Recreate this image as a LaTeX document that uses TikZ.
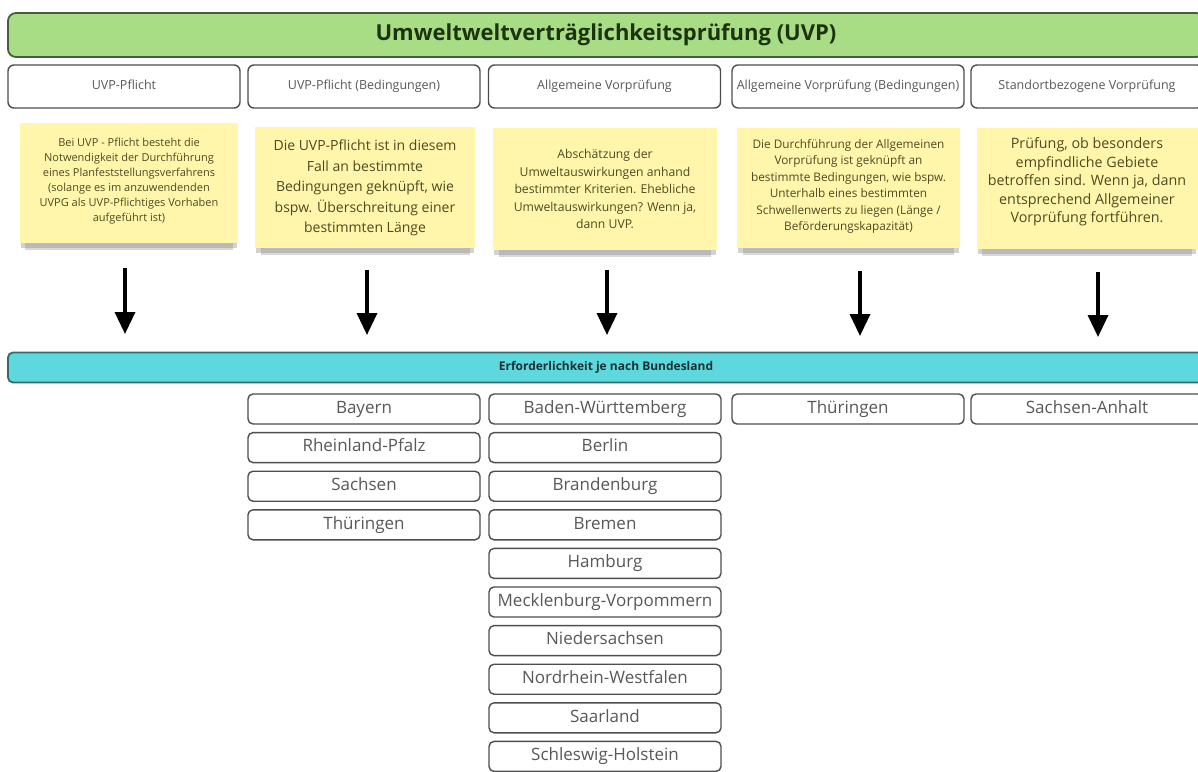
\documentclass[tikz,border=0pt]{standalone}
\usepackage{fontspec}
\setmainfont{Open Sans}
\usepackage{tikz}
\usetikzlibrary{arrows.meta, shadows}
\definecolor{uvpgreen}{RGB}{169, 221, 133}
\definecolor{uvpgreenline}{RGB}{72, 92, 62}
\definecolor{uvptitle}{RGB}{28, 52, 14}
\definecolor{notefill}{RGB}{255, 246, 172}
\definecolor{notetext}{RGB}{78, 74, 32}
\definecolor{barfill}{RGB}{94, 216, 220}
\definecolor{barline}{RGB}{46, 108, 112}
\definecolor{bartext}{RGB}{20, 50, 52}
\definecolor{boxline}{RGB}{78, 78, 78}
\definecolor{boxtext}{RGB}{88, 88, 88}

\tikzset{
  titlebar/.style={draw=uvpgreenline, line width=1.8pt, fill=uvpgreen, rounded corners=8pt,
    minimum width=1196pt, minimum height=44pt, inner sep=0pt, text=uvptitle,
    font=\fontsize{22}{26}\selectfont\bfseries},
  hdrbox/.style={draw=boxline, line width=1.4pt, fill=white, rounded corners=6pt,
    minimum width=\bw pt, minimum height=\hh pt, inner sep=0pt, text=boxtext,
    text height=9pt, text depth=3pt, font=\fontsize{12.5}{14}\selectfont},
  sticky/.style={fill=notefill, inner sep=0pt,
    drop shadow={shadow xshift=0pt, shadow yshift=-11pt, shadow scale=0.95, opacity=0.3},
    drop shadow={shadow xshift=0pt, shadow yshift=-6pt, shadow scale=0.99, opacity=0.35}},
  notelabel/.style={align=center, text=notetext, inner sep=0pt},
  statebar/.style={draw=barline, line width=1.8pt, fill=barfill, rounded corners=5pt,
    minimum width=1196pt, minimum height=30pt, inner sep=0pt, text=bartext,
    font=\fontsize{12}{14}\selectfont\bfseries},
  statebox/.style={draw=boxline, line width=1.4pt, fill=white, rounded corners=5pt,
    minimum width=\bw pt, minimum height=\sh pt, inner sep=0pt, text=boxtext,
    text height=12.5pt, text depth=4pt, font=\fontsize{17}{19}\selectfont},
  downarrow/.style={line width=3.5pt, -{Triangle[width=20pt, length=22pt]}}
}

\begin{document}
\begin{tikzpicture}[x=1pt, y=-1pt]
  \def\bw{232}
  \def\hh{43}
  \def\sh{30}

  \clip (0,0) rectangle (1198,771);
  \fill[white] (0,0) rectangle (1198,771);

  % Titel
  \node[titlebar] (title) at (606,35) {Umweltweltverträglichkeitsprüfung (UVP)};

  % Kopfzeile: 5 Verfahrensarten
  \node[hdrbox] (hdrPfl)  at (124,86.5)  {UVP-Pflicht};
  \node[hdrbox] (hdrBed)  at (364,86.5)  {UVP-Pflicht (Bedingungen)};
  \node[hdrbox] (hdrAVP)  at (604.5,86.5) {Allgemeine Vorprüfung};
  \node[hdrbox] (hdrAVPb) at (848,86.5)  {Allgemeine Vorprüfung (Bedingungen)};
  \node[hdrbox] (hdrSVP)  at (1087,86.5) {Standortbezogene Vorprüfung};

  % Notizzettel
  \node[sticky, minimum width=218pt, minimum height=120pt] (notePfl)  at (129,183)    {};
  \node[sticky, minimum width=220pt, minimum height=121pt] (noteBed)  at (365,187.5)  {};
  \node[sticky, minimum width=224pt, minimum height=122pt] (noteAVP)  at (605,189)    {};
  \node[sticky, minimum width=223pt, minimum height=120pt] (noteAVPb) at (848.5,188)  {};
  \node[sticky, minimum width=221pt, minimum height=121pt] (noteSVP)  at (1087,188.5) {};

  \node[notelabel, font=\fontsize{11}{15}\selectfont] (txtPfl) at (129,181)
    {Bei UVP - Pflicht besteht die\\ Notwendigkeit der Durchführung\\
     eines Planfeststellungsverfahrens\\ (solange es im anzuwendenden\\
     UVPG als UVP-Pflichtiges Vorhaben\\ aufgeführt ist)};
  \node[notelabel, font=\fontsize{14}{20.4}\selectfont] (txtBed) at (365,188)
    {Die UVP-Pflicht ist in diesem\\ Fall an bestimmte\\
     Bedingungen geknüpft, wie\\ bspw. Überschreitung einer\\ bestimmten Länge};
  \node[notelabel, font=\fontsize{12.2}{17.5}\selectfont] (txtAVP) at (605,189)
    {Abschätzung der\\ Umweltauswirkungen anhand\\
     bestimmter Kriterien. Ehebliche\\ Umweltauswirkungen? Wenn ja,\\ dann UVP.};
  \node[notelabel, font=\fontsize{11.8}{16.5}\selectfont] (txtAVPb) at (848.5,186.5)
    {Die Durchführung der Allgemeinen\\ Vorprüfung ist geknüpft an\\
     bestimmte Bedingungen, wie bspw.\\ Unterhalb eines bestimmten\\
     Schwellenwerts zu liegen (Länge /\\ Beförderungskapazität)};
  \node[notelabel, font=\fontsize{14.3}{18.5}\selectfont] (txtSVP) at (1087,182)
    {Prüfung, ob besonders\\ empfindliche Gebiete\\
     betroffen sind. Wenn ja, dann\\ entsprechend Allgemeiner\\ Vorprüfung fortführen.};

  % Pfeile
  \coordinate (arrPflA)  at (125,268);  \coordinate (arrPflB)  at (125,334);
  \coordinate (arrBedA)  at (367,270);  \coordinate (arrBedB)  at (367,335);
  \coordinate (arrAVPA)  at (607,270);  \coordinate (arrAVPB)  at (607,335);
  \coordinate (arrAVPbA) at (860,271);  \coordinate (arrAVPbB) at (860,336);
  \coordinate (arrSVPA)  at (1098,272); \coordinate (arrSVPB)  at (1098,337);
  \draw[downarrow] (arrPflA) -- (arrPflB);
  \draw[downarrow] (arrBedA) -- (arrBedB);
  \draw[downarrow] (arrAVPA) -- (arrAVPB);
  \draw[downarrow] (arrAVPbA) -- (arrAVPbB);
  \draw[downarrow] (arrSVPA) -- (arrSVPB);

  % Bundeslaender
  \node[statebar] (land) at (606,367.5) {Erforderlichkeit je nach Bundesland};

  \node[statebox] (stBY)  at (364,409)   {Bayern};
  \node[statebox] (stRP)  at (364,447.6) {Rheinland-Pfalz};
  \node[statebox] (stSN)  at (364,486.2) {Sachsen};
  \node[statebox] (stTHa) at (364,524.8) {Thüringen};

  \node[statebox] (stBW)  at (605,409)   {Baden-Württemberg};
  \node[statebox] (stBE)  at (605,447.6) {Berlin};
  \node[statebox] (stBB)  at (605,486.2) {Brandenburg};
  \node[statebox] (stHB)  at (605,524.8) {Bremen};
  \node[statebox] (stHH)  at (605,563.4) {Hamburg};
  \node[statebox] (stMV)  at (605,602)   {Mecklenburg-Vorpommern};
  \node[statebox] (stNI)  at (605,640.6) {Niedersachsen};
  \node[statebox] (stNW)  at (605,679.2) {Nordrhein-Westfalen};
  \node[statebox] (stSL)  at (605,717.8) {Saarland};
  \node[statebox] (stSH)  at (605,756.4) {Schleswig-Holstein};

  \node[statebox] (stTHb) at (848,409)   {Thüringen};
  \node[statebox] (stST)  at (1087,409)  {Sachsen-Anhalt};

\end{tikzpicture}
\end{document}
